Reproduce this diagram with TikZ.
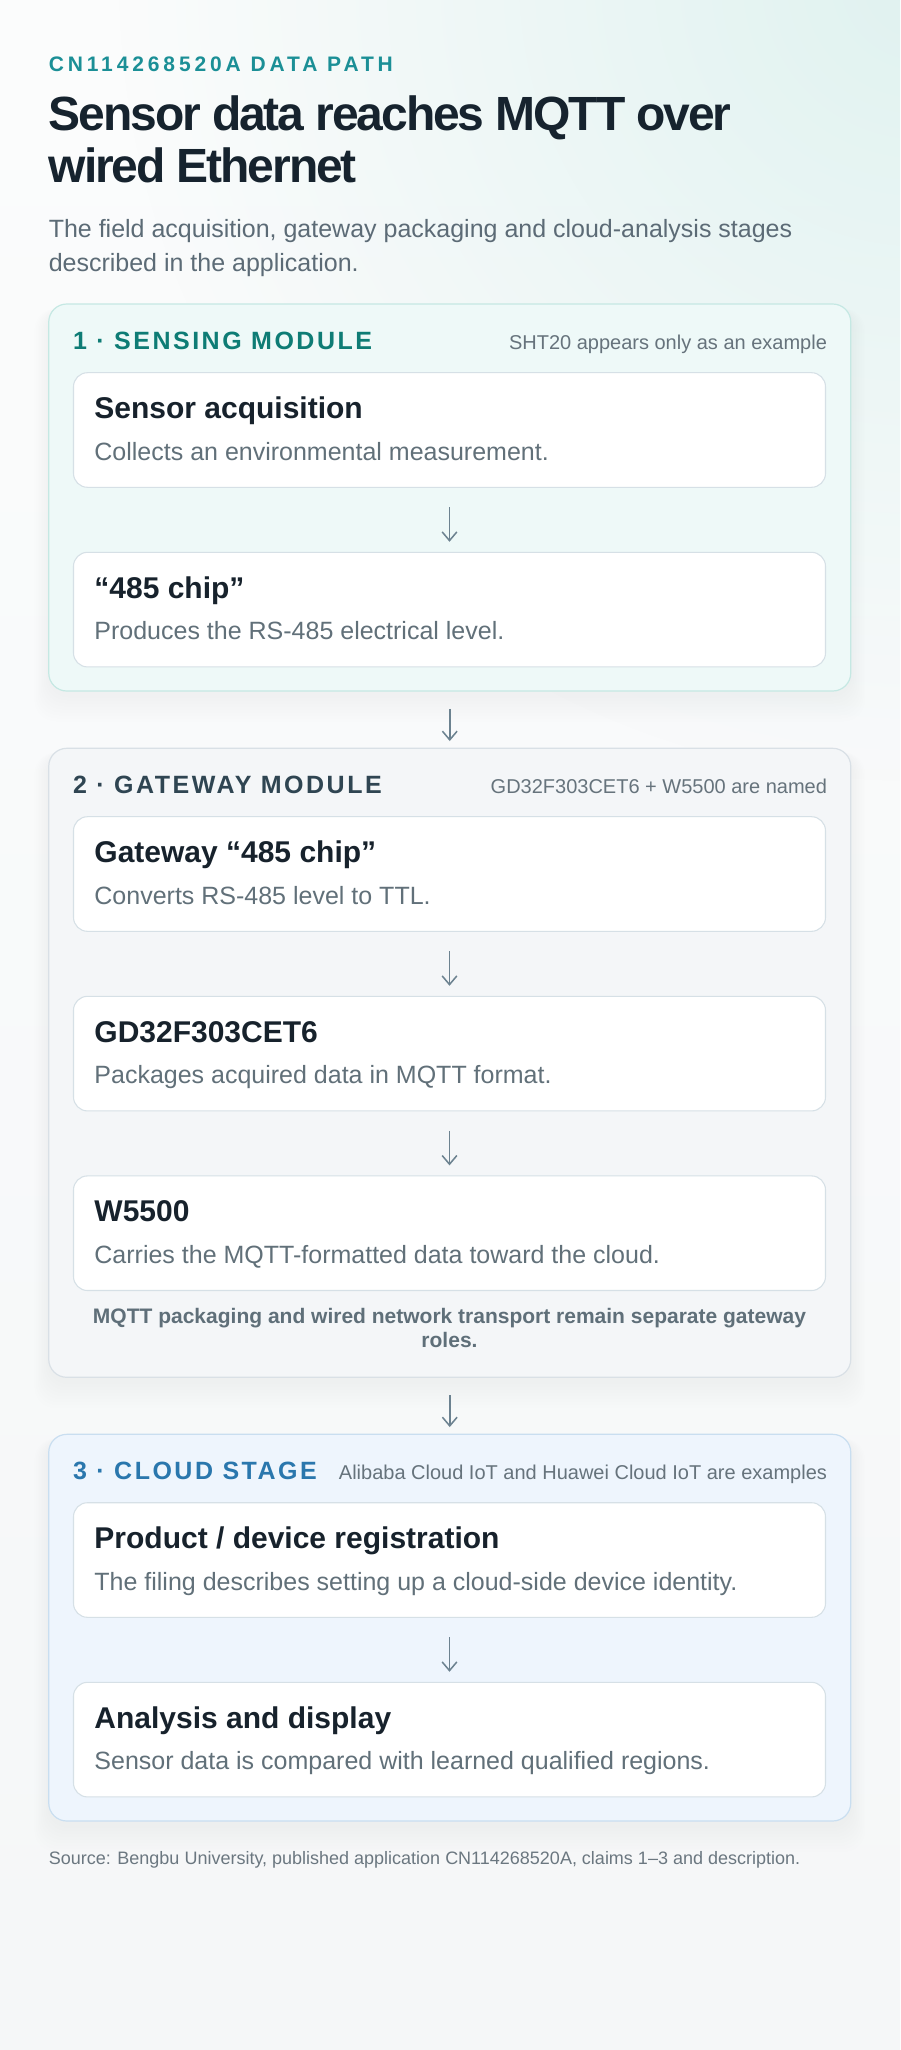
\documentclass[tikz,border=0pt]{standalone}
\usepackage{fontspec}
\setmainfont{Liberation Sans}
\newfontfamily\eyefont[LetterSpace=18.5]{Liberation Sans}
\newfontfamily\hdrfont[LetterSpace=10]{Liberation Sans}
\newfontfamily\ttlfont[LetterSpace=-4.4]{Liberation Sans}
\usetikzlibrary{arrows.meta,fadings}
\tikzfading[name=tealfade, inner color=transparent!0, outer color=transparent!100]
\definecolor{bgtop}{HTML}{FBFCFC}
\definecolor{bgbot}{HTML}{F5F7F8}
\definecolor{bgteal}{HTML}{E0F2F0}
\definecolor{eyec}{HTML}{1B8F96}
\definecolor{titlec}{HTML}{16232E}
\definecolor{subc}{HTML}{5C6B76}
\definecolor{hdrA}{HTML}{0E7C75}
\definecolor{hdrB}{HTML}{2F4552}
\definecolor{hdrC}{HTML}{2A77AD}
\definecolor{notec}{HTML}{66737C}
\definecolor{cardtc}{HTML}{17222C}
\definecolor{descc}{HTML}{617079}
\definecolor{arrowc}{HTML}{6C8290}
\definecolor{pAfill}{HTML}{EEF9F8}
\definecolor{pAdraw}{HTML}{C5E8E3}
\definecolor{pBfill}{HTML}{F4F6F8}
\definecolor{pBdraw}{HTML}{D9E0E6}
\definecolor{pCfill}{HTML}{EEF5FD}
\definecolor{pCdraw}{HTML}{C9DEF0}
\definecolor{carddraw}{HTML}{D6E0E6}
\definecolor{gwnote}{HTML}{5F6F79}
\definecolor{srcc}{HTML}{6B7780}
\newcommand{\softshadow}[4]{%
  \foreach \k in {1,...,9}{%
    \fill[black, fill opacity=0.0055, rounded corners=16pt] (#1-\k*1.6, #2+4) rectangle (#3+\k*1.6, #4+4+\k*3);
  }}
\begin{document}
\begin{tikzpicture}[x=0.75pt,y=-0.75pt,
  panel/.style={rounded corners=13.5pt, line width=0.9pt, minimum width=601.5pt, inner sep=0pt},
  card/.style={draw=carddraw, fill=white, rounded corners=10.5pt, line width=0.8pt,
    minimum width=564pt, minimum height=85.95pt, inner sep=0pt},
  txt/.style={anchor=base west, inner sep=0pt},
  hdr/.style={txt, font=\hdrfont\fontsize{18.75pt}{22pt}\selectfont\bfseries},
  hnote/.style={anchor=base east, inner sep=0pt, text=notec, font=\fontsize{15pt}{18pt}\selectfont},
  ctitle/.style={txt, text=cardtc, font=\fontsize{22.5pt}{26pt}\selectfont\bfseries},
  cdesc/.style={txt, text=descc, font=\fontsize{18.75pt}{22pt}\selectfont},
  arr/.style={-{Straight Barb[length=6.5pt,width=11pt,line width=1.15pt]}, line width=1.15pt, draw=arrowc,
    shorten <=14.5pt, shorten >=7.5pt},
  parr/.style={arr, shorten <=13pt, shorten >=5pt}
]
\useasboundingbox (0,0) rectangle (900,2050);
% background
\shade[top color=bgtop, bottom color=bgbot] (0,0) rectangle (900,2050);
\begin{scope}
  \clip (0,0) rectangle (900,2050);
  \fill[bgteal, path fading=tealfade] (920,-20) circle[radius=600pt];
\end{scope}

% heading
\node[txt, text=eyec, font=\eyefont\fontsize{15.75pt}{18pt}\selectfont\bfseries] (eyebrow) at (48.5,71.7) {CN114268520A DATA PATH};
\node[txt, text=titlec, font=\ttlfont\fontsize{36pt}{40pt}\selectfont\bfseries] (title1) at (48.5,130) {Sensor data reaches MQTT over};
\node[txt, text=titlec, font=\ttlfont\fontsize{36pt}{40pt}\selectfont\bfseries] (title2) at (48.5,182.7) {wired Ethernet};
\node[txt, text=subc, font=\fontsize{18.75pt}{22pt}\selectfont] (sub1) at (48.5,237.3) {The field acquisition, gateway packaging and cloud-analysis stages};
\node[txt, text=subc, font=\fontsize{18.75pt}{22pt}\selectfont] (sub2) at (48.5,271.7) {described in the application.};

% soft shadows
\softshadow{48.75}{304.5}{850.75}{690.5}
\softshadow{48.75}{748.3}{850.75}{1377.3}
\softshadow{48.75}{1434.3}{850.75}{1821}

% panels
\node[panel, draw=pAdraw, fill=pAfill, minimum height=290.25pt] (p1) at (449.75,497.5) {};
\node[panel, draw=pBdraw, fill=pBfill, minimum height=471.75pt] (p2) at (449.75,1062.8) {};
\node[panel, draw=pCdraw, fill=pCfill, minimum height=290pt] (p3) at (449.75,1627.65) {};

% panel headers
\node[hdr, text=hdrA] (h1) at ([shift={(24.7,46)}]p1.north west) {1 · SENSING MODULE};
\node[hnote] (n1) at ([shift={(-24.1,46)}]p1.north east) {SHT20 appears only as an example};
\node[hdr, text=hdrB] (h2) at ([shift={(24.7,46)}]p2.north west) {2 · GATEWAY MODULE};
\node[hnote] (n2) at ([shift={(-24.1,46)}]p2.north east) {GD32F303CET6 + W5500 are named};
\node[hdr, text=hdrC] (h3) at ([shift={(24.7,46)}]p3.north west) {3 · CLOUD STAGE};
\node[hnote] (n3) at ([shift={(-24.1,46)}]p3.north east) {Alibaba Cloud IoT and Huawei Cloud IoT are examples};

% cards
\node[card] (c1) at (449.5,430) {};
\node[card] (c2) at (449.5,609.6) {};
\node[card] (c3) at (449.5,874) {};
\node[card] (c4) at (449.5,1053.6) {};
\node[card] (c5) at (449.5,1233.2) {};
\node[card] (c6) at (449.5,1560) {};
\node[card] (c7) at (449.5,1739.6) {};

\node[ctitle] (t1) at ([shift={(21.2,46.3)}]c1.north west) {Sensor acquisition};
\node[cdesc]  (d1) at ([shift={(21.2,88)}]c1.north west) {Collects an environmental measurement.};
\node[ctitle] (t2) at ([shift={(21.2,46.3)}]c2.north west) {“485 chip”};
\node[cdesc]  (d2) at ([shift={(21.2,88)}]c2.north west) {Produces the RS-485 electrical level.};
\node[ctitle] (t3) at ([shift={(21.2,46.3)}]c3.north west) {Gateway “485 chip”};
\node[cdesc]  (d3) at ([shift={(21.2,88)}]c3.north west) {Converts RS-485 level to TTL.};
\node[ctitle] (t4) at ([shift={(21.2,46.3)}]c4.north west) {GD32F303CET6};
\node[cdesc]  (d4) at ([shift={(21.2,88)}]c4.north west) {Packages acquired data in MQTT format.};
\node[ctitle] (t5) at ([shift={(21.2,46.3)}]c5.north west) {W5500};
\node[cdesc]  (d5) at ([shift={(21.2,88)}]c5.north west) {Carries the MQTT-formatted data toward the cloud.};
\node[ctitle] (t6) at ([shift={(21.2,46.3)}]c6.north west) {Product / device registration};
\node[cdesc]  (d6) at ([shift={(21.2,88)}]c6.north west) {The filing describes setting up a cloud-side device identity.};
\node[ctitle] (t7) at ([shift={(21.2,46.3)}]c7.north west) {Analysis and display};
\node[cdesc]  (d7) at ([shift={(21.2,88)}]c7.north west) {Sensor data is compared with learned qualified regions.};

% gateway note
\node[anchor=base, inner sep=0pt, text=gwnote, font=\fontsize{15.75pt}{18pt}\selectfont\bfseries] (gw1) at (449.5,1323.3) {MQTT packaging and wired network transport remain separate gateway};
\node[anchor=base, inner sep=0pt, text=gwnote, font=\fontsize{15.75pt}{18pt}\selectfont\bfseries] (gw2) at (449.5,1347.3) {roles.};

% connectors
\draw[arr] (c1.south) -- (c2.north);
\draw[arr] (c3.south) -- (c4.north);
\draw[arr] (c4.south) -- (c5.north);
\draw[arr] (c6.south) -- (c7.north);
\draw[parr] (p1.south) -- (p2.north);
\draw[parr] (p2.south) -- (p3.north);

% source
\node[txt, text=srcc, font=\fontsize{13.5pt}{16pt}\selectfont] (src) at (48.5,1864.3) {Source: Bengbu University, published application CN114268520A, claims 1–3 and description.};
\end{tikzpicture}
\end{document}
